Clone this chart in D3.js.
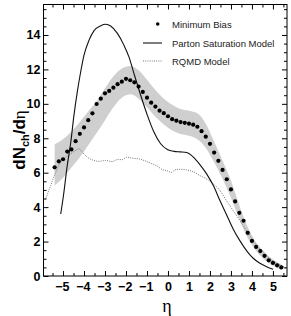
<!DOCTYPE html>
<html>
<head>
<meta charset="UTF-8">
<script src="https://d3js.org/d3.v7.min.js"></script>
<style>
  body { margin: 0; background: #fff; }
  svg { display: block; font-family: "Liberation Sans", Arial, sans-serif; }
  .tick text { font-weight: bold; font-size: 12.5px; fill: #000; }
  .tick line { stroke: #000; }
  .domain { display: none; }
</style>
</head>
<body>
<svg width="291" height="316"></svg>
<script>
// minimum bias data, eta from -5.4 to 5.4 step 0.2
const mbEta = d3.range(-5.4, 5.41, 0.2).map(v => +v.toFixed(1));
const mbVal = [6.31, 6.66, 6.78, 7.23, 7.35, 7.83, 8.26, 8.63, 9.05, 9.45,
  9.99, 10.30, 10.61, 10.75, 10.94, 11.14, 11.29, 11.45, 11.37, 11.25,
  11.0, 10.69, 10.36, 10.07, 9.84, 9.60, 9.46, 9.28,
  9.11, 9.02, 8.94, 8.90, 8.85, 8.79, 8.67, 8.41, 8.09, 7.68,
  7.17, 6.69, 6.16, 5.62, 5.03, 4.33, 3.67, 3.21, 2.51, 2.04,
  1.69, 1.45, 1.17, 0.91, 0.76, 0.62, 0.50];

// systematic error band
const bandEta = [-5.4, -5.0, -4.6, -4.2, -3.8, -3.4, -3.0, -2.6, -2.2, -1.8, -1.4, -1.0, -0.6, -0.2,
  0.2, 0.6, 1.0, 1.4, 1.8, 2.2, 2.6, 3.0, 3.4, 3.8, 4.2, 4.6, 5.0, 5.4];
const bandLo = [5.25, 5.7, 6.3, 6.9, 7.6, 8.3, 9.05, 9.8, 10.35, 10.55, 10.3, 9.8, 9.25, 8.8,
  8.45, 8.25, 8.15, 7.95, 7.45, 6.6, 5.65, 4.55, 3.3, 2.2, 1.45, 0.95, 0.6, 0.35];
const bandHi = [7.65, 7.95, 8.4, 8.95, 9.55, 10.15, 10.9, 11.6, 12.05, 12.2, 11.95, 11.4, 10.8, 10.3,
  9.95, 9.7, 9.6, 9.45, 8.85, 7.8, 6.7, 5.55, 4.1, 2.85, 1.95, 1.4, 0.95, 0.7];

// parton saturation model
const psEta = [-5.11, -4.98, -4.8, -4.63, -4.48, -4.32, -4.16, -4.0, -3.76, -3.52, -3.2, -2.97,
  -2.73, -2.41, -2.1, -1.86, -1.62, -1.3, -0.98, -0.67, -0.35, -0.03, 0.3, 0.57, 0.89, 1.21,
  1.52, 1.84, 2.16, 2.48, 2.79, 3.11, 3.43, 3.75, 4.06, 4.38, 4.7, 5.01];
const psVal = [3.6, 4.66, 6.41, 7.77, 9.33, 10.69, 11.85, 12.83, 13.7, 14.25, 14.54, 14.62,
  14.52, 14.09, 13.41, 12.73, 11.76, 10.5, 9.33, 8.36, 7.68, 7.35, 7.24, 7.21, 7.17, 6.9,
  6.47, 5.93, 5.25, 4.37, 3.56, 2.72, 2.04, 1.46, 1.03, 0.74, 0.54, 0.39];

// RQMD model
const rqEta = [-5.82, -5.59, -5.35, -5.11, -4.87, -4.63, -4.4, -4.24, -4.08, -3.84, -3.52, -3.29,
  -2.97, -2.65, -2.41, -2.18, -1.97, -1.7, -1.38, -1.14, -0.82, -0.51, -0.27, -0.06, 0.17,
  0.33, 0.57, 0.89, 1.2, 1.52, 1.84, 2.16, 2.48, 2.79, 3.11, 3.43, 3.75, 4.06, 4.38, 4.7,
  5.01, 5.33, 5.62];
const rqVal = [4.51, 5.25, 6.02, 6.61, 6.9, 7.1, 7.29, 7.39, 7.19, 6.9, 6.71, 6.66,
  6.71, 6.65, 6.76, 6.76, 6.9, 6.84, 6.8, 6.71, 6.55, 6.38, 6.18, 6.12, 6.02,
  6.16, 6.2, 6.16, 6.06, 5.83, 5.64, 5.35, 4.96, 4.37, 3.79, 3.21, 2.62, 2.04, 1.56, 1.17,
  0.87, 0.64, 0.48];

const xMajor = [-5, -4, -3, -2, -1, 0, 1, 2, 3, 4, 5];
const yMajor = [0, 2, 4, 6, 8, 10, 12, 14];
const legendLabels = ["Minimum Bias", "Parton Saturation Model", "RQMD Model"];

const L = 43.5, R = 287, T = 4.5, B = 276;
const svg = d3.select("svg");
const x = d3.scaleLinear().domain([-5.93, 5.67]).range([L, R]);
const y = d3.scaleLinear().domain([0, 15.77]).range([B, T]);

const xMinor = d3.range(-5.5, 5.6, 0.5).filter(v => !Number.isInteger(v));
const yMinor = d3.range(0.5, 15.6, 0.5).filter(v => v % 2 !== 0);

// band
const band = d3.area()
  .x((d, i) => x(bandEta[i]))
  .y0((d, i) => y(bandLo[i]))
  .y1((d, i) => y(bandHi[i]))
  .curve(d3.curveMonotoneX);
svg.append("path").datum(bandEta).attr("d", band).attr("fill", "#cfcfcf");

// RQMD dotted
const rqLine = d3.line().x((d, i) => x(rqEta[i])).y((d, i) => y(rqVal[i])).curve(d3.curveMonotoneX);
svg.append("path").datum(rqEta).attr("d", rqLine)
  .attr("fill", "none").attr("stroke", "#777").attr("stroke-width", 1)
  .attr("stroke-dasharray", "1,1.2");

// parton saturation solid
const psLine = d3.line().x((d, i) => x(psEta[i])).y((d, i) => y(psVal[i])).curve(d3.curveMonotoneX);
svg.append("path").datum(psEta).attr("d", psLine)
  .attr("fill", "none").attr("stroke", "#111").attr("stroke-width", 1.1);

// data points
svg.append("g").selectAll("circle")
  .data(mbEta)
  .enter()
  .append("circle")
  .attr("cx", d => x(d))
  .attr("cy", (d, i) => y(mbVal[i]))
  .attr("r", 2.1)
  .attr("fill", "#000");

// axes, ticks inward on all sides
const bottom = svg.append("g").attr("transform", "translate(0," + B + ")");
bottom.call(d3.axisBottom(x).tickValues(xMajor).tickSizeInner(-5).tickSizeOuter(0).tickPadding(6)
  .tickFormat(d3.format("d")));
bottom.call(g => g.selectAll(".tick text").attr("dx", d => d < 0 ? "-0.1em" : 0));
svg.append("g").attr("transform", "translate(0," + B + ")")
  .call(d3.axisBottom(x).tickValues(xMinor).tickSizeInner(-3).tickSizeOuter(0).tickFormat(""));
svg.append("g").attr("transform", "translate(0," + T + ")")
  .call(d3.axisTop(x).tickValues(xMajor).tickSizeInner(-5).tickSizeOuter(0).tickFormat(""));
svg.append("g").attr("transform", "translate(0," + T + ")")
  .call(d3.axisTop(x).tickValues(xMinor).tickSizeInner(-3).tickSizeOuter(0).tickFormat(""));

svg.append("g").attr("transform", "translate(" + L + ",0)")
  .call(d3.axisLeft(y).tickValues(yMajor).tickSizeInner(-5).tickSizeOuter(0).tickPadding(3)
  .tickFormat(d3.format("d")));
svg.append("g").attr("transform", "translate(" + L + ",0)")
  .call(d3.axisLeft(y).tickValues(yMinor).tickSizeInner(-3).tickSizeOuter(0).tickFormat(""));
svg.append("g").attr("transform", "translate(" + R + ",0)")
  .call(d3.axisRight(y).tickValues(yMajor).tickSizeInner(-5).tickSizeOuter(0).tickFormat(""));
svg.append("g").attr("transform", "translate(" + R + ",0)")
  .call(d3.axisRight(y).tickValues(yMinor).tickSizeInner(-3).tickSizeOuter(0).tickFormat(""));

svg.append("rect").attr("x", L).attr("y", T).attr("width", R - L).attr("height", B - T)
  .attr("fill", "none").attr("stroke", "#000").attr("stroke-width", 1);

// legend
const lg = svg.append("g").attr("font-size", "9.5px").attr("fill", "#222");
const rows = [24, 43, 61];
lg.append("circle").attr("cx", 157.7).attr("cy", rows[0]).attr("r", 1.8).attr("fill", "#000");
lg.append("line").attr("x1", 143).attr("x2", 162).attr("y1", rows[1]).attr("y2", rows[1])
  .attr("stroke", "#111").attr("stroke-width", 1.1);
lg.append("line").attr("x1", 143).attr("x2", 162).attr("y1", rows[2]).attr("y2", rows[2])
  .attr("stroke", "#777").attr("stroke-dasharray", "1,1.2");
lg.selectAll("text").data(legendLabels).enter().append("text")
  .attr("x", 172).attr("y", (d, i) => rows[i] + 3.5).text(d => d);

// axis titles
svg.append("text").attr("x", 167).attr("y", 312).attr("text-anchor", "middle")
  .attr("font-family", "Liberation Serif, serif").attr("font-size", "18px").text("η");

const yt = svg.append("text").attr("transform", "translate(25,140) rotate(-90)")
  .attr("text-anchor", "middle").attr("font-weight", "bold").attr("font-size", "17px");
yt.append("tspan").text("dN");
yt.append("tspan").attr("font-size", "11px").attr("dy", 4).text("ch");
yt.append("tspan").attr("dy", -4).text("/d");
yt.append("tspan").attr("font-weight", "normal").attr("font-family", "Liberation Serif, serif").text("η");
</script>
</body>
</html>
